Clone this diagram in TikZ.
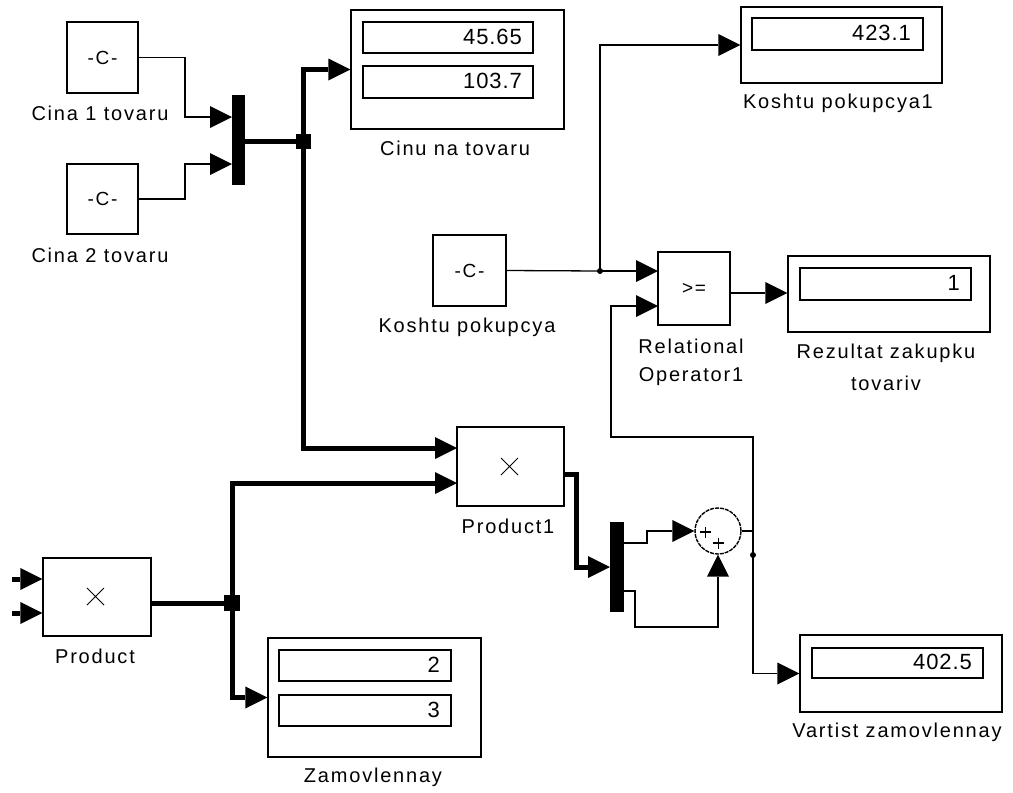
\documentclass[tikz,border=0pt]{standalone}
\usepackage{fontspec}
\setmainfont{Liberation Sans}
\newfontfamily\lblfont[LetterSpace=9]{Liberation Sans}
\newfontfamily\numfont[LetterSpace=4]{Liberation Sans}
\usetikzlibrary{arrows.meta}
\begin{document}
\begin{tikzpicture}[x=1pt,y=-1pt,
  blk/.style={draw, line width=1.4pt, inner sep=0pt, fill=white, font=\lblfont\fontsize{19}{22}\selectfont},
  fld/.style={draw, line width=1.4pt},
  lbl/.style={font=\lblfont\fontsize{20}{23}\selectfont, inner sep=0pt, align=center},
  num/.style={font=\numfont\fontsize{22}{25}\selectfont, inner sep=0pt, anchor=east},
  wire/.style={line width=1.3pt},
  bus/.style={line width=5pt},
  arr/.style={-{Triangle[length=22pt,width=22pt,line width=0pt]}},
  muxbar/.style={fill=black, inner sep=0pt},
  jbox/.style={fill=black, inner sep=0pt, minimum size=15pt},
  jdot/.style={circle, fill=black, inner sep=0pt, minimum size=6pt},
]
\useasboundingbox (0,0) rectangle (1013,793);
\fill[white] (0,0) rectangle (1013,793);

% ---------- blocks ----------
\node[blk, minimum width=71pt, minimum height=71pt] (cst1) at (102.5,57.5) {-C-};
\node[blk, minimum width=71pt, minimum height=70pt] (cst2) at (102.5,199) {-C-};
\node[muxbar, minimum width=13pt, minimum height=90pt] (mux1) at (238.5,140) {};
\node[blk, minimum width=213pt, minimum height=119pt] (disp1) at (457.5,69.5) {};
\node[blk, minimum width=201pt, minimum height=76pt] (disp2) at (841.5,45) {};
\node[blk, minimum width=73pt, minimum height=71pt] (cst3) at (469.5,270.5) {-C-};
\node[blk, minimum width=72pt, minimum height=73pt] (rel) at (694,288.5) {>=};
\node[blk, minimum width=202pt, minimum height=76pt] (disp3) at (889,294) {};
\node[blk, minimum width=107pt, minimum height=79pt] (prod1) at (510.5,466.5) {};
\node[muxbar, minimum width=14pt, minimum height=90pt] (mux2) at (617,567) {};
\node[circle, draw, line width=1.4pt, dash pattern=on 4pt off 1pt, minimum size=46pt, inner sep=0pt] (sum) at (718,531) {};
\node[blk, minimum width=108pt, minimum height=78pt] (prod) at (97,597) {};
\node[blk, minimum width=213pt, minimum height=119pt] (disp4) at (374.5,697.5) {};
\node[blk, minimum width=202pt, minimum height=77pt] (disp5) at (901,673.5) {};

% product crosses
\draw[line width=1pt] (501,458) -- (518,475) (501,475) -- (518,458);
\draw[line width=1pt] (87,588) -- (104,605) (87,605) -- (104,588);
% sum signs
\draw[line width=1.4pt] (700,532) -- (711,532) (705.5,526.5) -- (705.5,537.5);
\draw[line width=1.4pt] (713,543) -- (724,543) (718.5,537.5) -- (718.5,548.5);

% ---------- display fields ----------
\draw[fld] (363,22) rectangle (533,53);
\draw[fld] (363,66) rectangle (533,98);
\node[num] (v1) at (522,37) {45.65};
\node[num] (v2) at (522,81) {103.7};
\draw[fld] (752,18) rectangle (923,50);
\node[num] (v3) at (911,33) {423.1};
\draw[fld] (800,268) rectangle (971,300);
\node[num] (v4) at (960,283) {1};
\draw[fld] (279,650) rectangle (451,681);
\draw[fld] (279,695) rectangle (451,726);
\node[num] (v5) at (440,665) {2};
\node[num] (v6) at (440,710) {3};
\draw[fld] (812,648) rectangle (983,678);
\node[num] (v7) at (972,662) {402.5};

% ---------- labels ----------
\node[lbl] (l1) at (100,113) {Cina 1 tovaru};
\node[lbl] (l2) at (100,255) {Cina 2 tovaru};
\node[lbl] (l3) at (455,148) {Cinu na tovaru};
\node[lbl] (l4) at (838,103) {Koshtu pokupcya1};
\node[lbl] (l5) at (467,327) {Koshtu pokupcya};
\node[lbl] (l6) at (691,346) {Relational};
\node[lbl] (l7) at (691,377) {Operator1};
\node[lbl] (l8) at (886,353) {Rezultat zakupku};
\node[lbl] (l9) at (886,383) {tovariv};
\node[lbl] (l10) at (508,526) {Product1};
\node[lbl] (l11) at (95,656) {Product};
\node[lbl] (l12) at (373,777) {Zamovlennay};
\node[lbl] (l13) at (897,732) {Vartist zamovlennay};

% ---------- ports / junctions ----------
\coordinate (m1i1) at (232,117);
\coordinate (m1i2) at (232,164);
\coordinate (m1o) at (245,141);
\coordinate (p1i1) at (457,448);
\coordinate (p1i2) at (457,483);
\coordinate (p1o) at (564,474);
\coordinate (m2i) at (610,567);
\coordinate (m2o1) at (624,543);
\coordinate (m2o2) at (624,591);
\coordinate (ri1) at (658,271);
\coordinate (ri2) at (658,306);
\coordinate (ro) at (730,293);
\coordinate (po) at (151,603);
\coordinate (pin1) at (12,579);
\coordinate (pin2) at (12,613);
\coordinate (tap) at (753,531);

% ---------- connectors ----------
\draw[wire,arr] (cst1.east) -- (185,57.5) |- (m1i1);
\draw[wire,arr] (cst2.east) -- (185,199) |- (m1i2);
\node[jbox] (j1) at (303,141) {};
\draw[bus] (m1o) -- (j1.center);
\draw[bus,arr] (j1.center) |- (disp1.west);
\draw[bus,arr] (j1.center) |- (p1i1);

\node[jbox, minimum size=16pt] (j2) at (232,603) {};
\draw[bus] (po) -- (j2.center);
\draw[bus,arr] (j2.center) |- (p1i2);
\draw[bus,arr] (j2.center) |- (disp4.west);
\draw[bus,arr] (pin1) -- (prod.west |- pin1);
\draw[bus,arr] (pin2) -- (prod.west |- pin2);

\draw[bus,arr] (p1o) -- (576,474) |- (m2i);
\draw[wire,arr] (m2o1) -- (647,543) |- (sum.west);
\draw[wire,arr] (m2o2) -- (635,591) |- (718,627) -- (sum.south);

\draw[wire] (sum.east) -- (tap);
\draw[wire,arr] (tap) |- (disp5.west);
\draw[wire,arr] (tap) -- (753,437) -| (611,306) -- (ri2);
\node[jdot] (j4) at (753,555) {};

\node[jdot] (j3) at (600,271) {};
\draw[wire] (cst3.east) -- (j3.center);
\draw[wire,arr] (j3.center) -- (ri1);
\draw[wire,arr] (j3.center) |- (disp2.west);
\draw[wire,arr] (ro) -- (disp3.west |- ro);
\end{tikzpicture}
\end{document}
